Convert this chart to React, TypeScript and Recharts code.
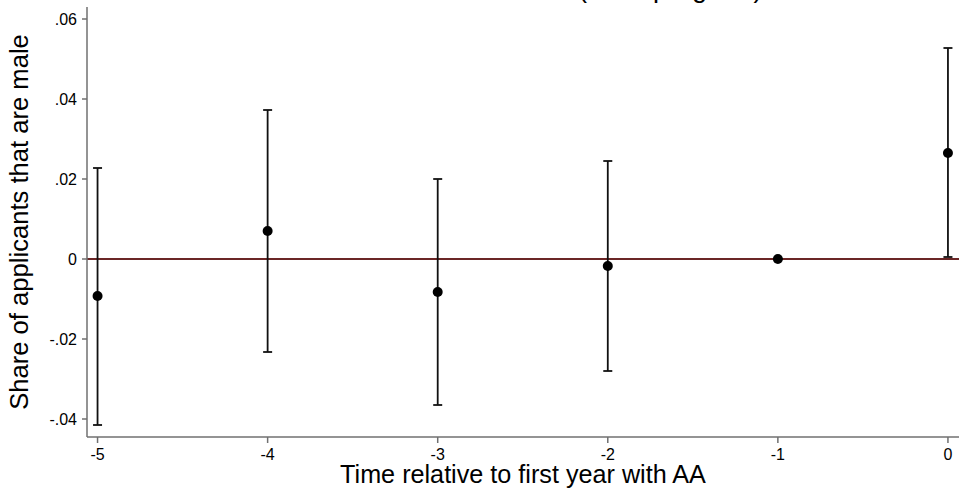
import React from 'react';
import {
  ComposedChart,
  Scatter,
  XAxis,
  YAxis,
  ErrorBar,
  ReferenceLine,
} from 'recharts';

// Event time relative to first year with AA
const periods = [-5, -4, -3, -2, -1, 0];
// Point estimates
const estimates = [-0.00925, 0.007, -0.00825, -0.00175, 0, 0.0265];
// Confidence interval bounds
const ciLower = [-0.0415, -0.02325, -0.0365, -0.028, 0, 0.0005];
const ciUpper = [0.02275, 0.03725, 0.02, 0.0245, 0, 0.05275];
// Tick values
const xTicks = [-5, -4, -3, -2, -1, 0];
const yTicks = [-0.04, -0.02, 0, 0.02, 0.04, 0.06];

const titleText = '(main program)';
const xLabel = 'Time relative to first year with AA';
const yLabel = 'Share of applicants that are male';

const data = periods.map((p, i) => ({
  t: p,
  est: estimates[i],
  err: [estimates[i] - ciLower[i], ciUpper[i] - estimates[i]],
}));

const FONT = '"Liberation Sans", Arial, Helvetica, sans-serif';
const AXIS_GRAY = '#707070';

const fmtY = (v: number) => {
  if (Math.abs(v) < 1e-9) return '0';
  return v.toFixed(2).replace('0.', '.');
};

const Dot = (props: any) => {
  const { cx, cy } = props;
  if (cx == null || cy == null) return null;
  return <circle cx={cx} cy={cy} r={5} fill="#000" />;
};

export default function App() {
  return (
    <div style={{ position: 'absolute', left: 0, top: 0, width: 959, height: 492, fontFamily: FONT }}>
      <svg
        width={959}
        height={12}
        style={{ position: 'absolute', left: 0, top: 0, pointerEvents: 'none' }}
      >
        <text x={578} y={-3.5} fontSize={27} fontFamily={FONT} fill="#000">
          {titleText}
        </text>
      </svg>
      <ComposedChart
        width={959}
        height={492}
        data={data}
        margin={{ top: 7, right: 0, bottom: 0, left: 0 }}
        style={{ fontFamily: FONT }}
      >
        <XAxis
          dataKey="t"
          type="number"
          domain={[-5.062, 0.065]}
          allowDataOverflow
          ticks={xTicks}
          interval={0}
          height={55}
          tickSize={6}
          tickMargin={6}
          axisLine={{ stroke: AXIS_GRAY, strokeWidth: 1.5 }}
          tickLine={{ stroke: AXIS_GRAY, strokeWidth: 1.5 }}
          tick={{ fontSize: 16, fill: '#000', fontFamily: FONT }}
          label={{
            value: xLabel,
            position: 'insideBottom',
            offset: 9,
            style: { fontSize: 25.2, fill: '#000', fontFamily: FONT },
          }}
        />
        <YAxis
          type="number"
          domain={[-0.0445, 0.063]}
          allowDataOverflow
          ticks={yTicks}
          interval={0}
          width={87}
          tickSize={5}
          tickMargin={5}
          tickFormatter={fmtY}
          axisLine={{ stroke: AXIS_GRAY, strokeWidth: 1.5 }}
          tickLine={{ stroke: AXIS_GRAY, strokeWidth: 1.5 }}
          tick={{ fontSize: 16, fill: '#000', fontFamily: FONT }}
          label={{
            value: yLabel,
            angle: -90,
            position: 'insideLeft',
            offset: 19,
            style: { fontSize: 25.6, fill: '#000', fontFamily: FONT, textAnchor: 'middle' },
          }}
        />
        <ReferenceLine y={0} stroke="#6b2626" strokeWidth={2} />
        <Scatter dataKey="est" shape={Dot} isAnimationActive={false}>
          <ErrorBar
            dataKey="err"
            direction="y"
            width={4.5}
            stroke="#111"
            strokeWidth={1.8}
            isAnimationActive={false}
          />
        </Scatter>
      </ComposedChart>
    </div>
  );
}
